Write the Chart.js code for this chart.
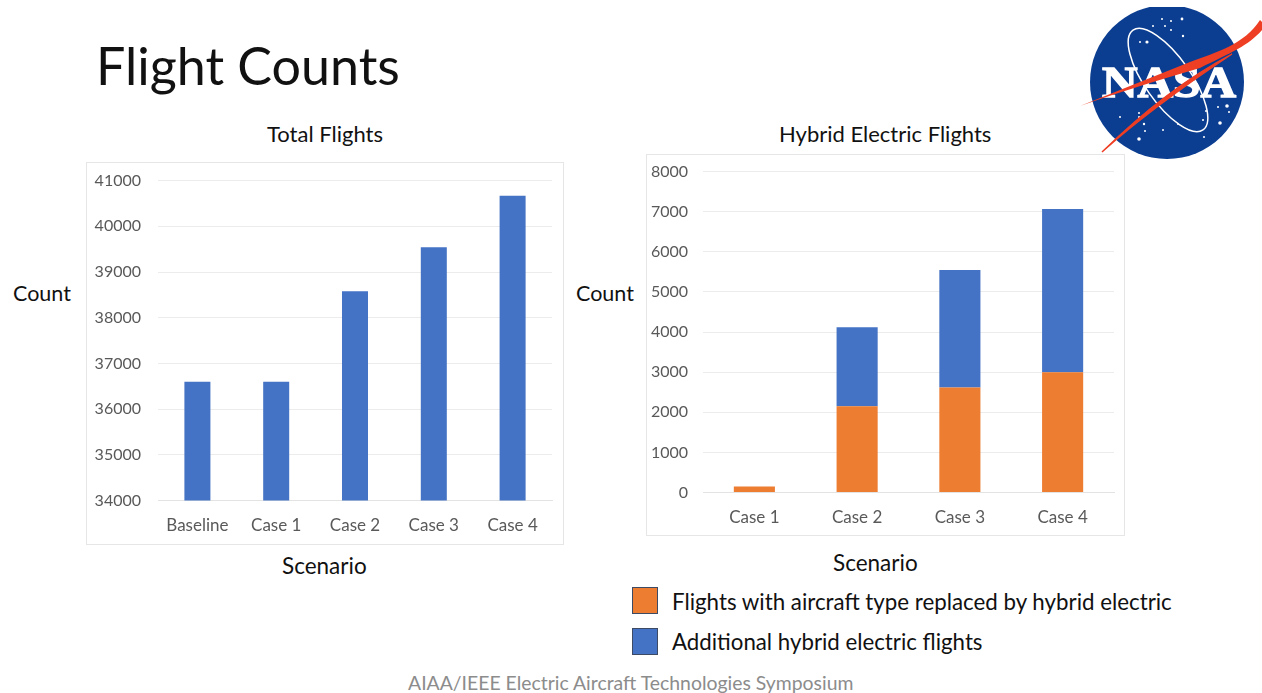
<!DOCTYPE html>
<html>
<head>
<meta charset="utf-8">
<script src="https://cdn.jsdelivr.net/npm/chart.js@4"></script>
<style>
html,body{margin:0;padding:0;background:#fff;width:1262px;height:693px;overflow:hidden;font-family:Lato,sans-serif;color:#111}
.t{position:absolute;white-space:nowrap;line-height:1}
.frame{position:absolute;border:1px solid #e6e6e6;box-sizing:border-box;background:#fff}
.frame canvas{display:block;position:absolute;left:0}
.sw{position:absolute;width:26px;height:27px;box-sizing:border-box;border:1.5px solid #3d4a63}
svg{position:absolute}
</style>
</head>
<body>
<div class="t" style="left:96px;top:39px;font-size:52px;font-weight:400;color:#111">Flight Counts</div>
<div class="t" style="left:267px;top:123px;font-size:22px">Total Flights</div>
<div class="t" style="left:779px;top:123px;font-size:22px">Hybrid Electric Flights</div>
<div class="t" style="left:13px;top:283px;font-size:21.5px">Count</div>
<div class="t" style="left:576px;top:283px;font-size:21.5px">Count</div>
<div class="t" style="left:282px;top:555px;font-size:22.5px">Scenario</div>
<div class="t" style="left:833px;top:552px;font-size:22.5px">Scenario</div>

<div class="frame" style="left:86px;top:162px;width:478px;height:383px"><canvas id="left" width="476" height="390" style="top:-9px;width:476px;height:390px"></canvas></div>
<div class="frame" style="left:646px;top:154px;width:479px;height:382px"><canvas id="right" width="477" height="388" style="top:-8px;width:477px;height:388px"></canvas></div>

<div class="sw" style="left:632px;top:587px;background:#ed7d31"></div>
<div class="sw" style="left:632px;top:628px;background:#4472c4"></div>
<div class="t" id="lg0" style="left:672px;top:591px;font-size:22.3px"></div>
<div class="t" id="lg1" style="left:672px;top:631px;font-size:22.25px"></div>
<div class="t" style="left:408px;top:673px;font-size:19.4px;color:#8c8c8c">AIAA/IEEE Electric Aircraft Technologies Symposium</div>

<svg style="left:1062px;top:0" width="200" height="170" viewBox="1062 0 200 170">
<defs><clipPath id="c"><rect x="1062" y="7" width="200" height="163"/></clipPath></defs>
<g clip-path="url(#c)">
<circle cx="1167" cy="82" r="77" fill="#0b3d91"/>
<g fill="#fff">
<circle cx="1182" cy="19" r="1.4"/><circle cx="1162" cy="19" r="1"/><circle cx="1171" cy="21" r="1"/>
<circle cx="1183" cy="36" r="1.2"/><circle cx="1147" cy="42" r="1.6"/><circle cx="1140" cy="42" r="1"/>
<circle cx="1153" cy="26" r="1"/><circle cx="1165" cy="26" r="1"/><circle cx="1171" cy="30" r="1"/>
<circle cx="1139" cy="117" r="1"/><circle cx="1120" cy="117" r="1"/><circle cx="1144" cy="124" r="1.2"/>
<circle cx="1139" cy="139" r="1.8"/><circle cx="1145" cy="131" r="1"/><circle cx="1163" cy="130" r="1"/>
<circle cx="1178" cy="124" r="1"/><circle cx="1204" cy="137" r="1"/><circle cx="1206" cy="111" r="1"/>
<circle cx="1227" cy="106" r="1.8"/><circle cx="1218" cy="107" r="1"/><circle cx="1229" cy="112" r="1"/>
<circle cx="1220" cy="123" r="1.8"/><circle cx="1203" cy="120" r="1"/><circle cx="1139" cy="113" r="1"/>
</g>
<ellipse cx="1168" cy="80" rx="23" ry="61" transform="rotate(-35 1168 80)" fill="none" stroke="#fff" stroke-width="1.5"/>
<text x="1102" y="97" font-family="'Liberation Serif',serif" font-weight="700" font-size="45" textLength="134" lengthAdjust="spacingAndGlyphs" fill="#fff" stroke="#fff" stroke-width="1.4">NASA</text>
<path d="M1080 106 L1190 62 C1215 53 1245 44 1260 20 L1262 22 L1262 30 C1248 46 1232 52 1200 68 C1165 78 1120 92 1080 106 Z" fill="#ee3e23"/>
<path d="M1102 152 C1140 118 1190 82 1232 54 C1190 76 1150 105 1102 152 Z" fill="#ee3e23" stroke="#ee3e23" stroke-width="1.4"/>
</g>
</svg>

<script>
const totalCategories = ["Baseline","Case 1","Case 2","Case 3","Case 4"];
const totalValues = [36600,36600,38580,39540,40670];
const hybridCategories = ["Case 1","Case 2","Case 3","Case 4"];
const replacedLabel = "Flights with aircraft type replaced by hybrid electric";
const additionalLabel = "Additional hybrid electric flights";
const replacedValues = [150,2150,2620,3000];
const additionalValues = [0,1970,2930,4070];

document.getElementById('lg0').textContent = replacedLabel;
document.getElementById('lg1').textContent = additionalLabel;

Chart.defaults.font.family = "Lato, sans-serif";
Chart.defaults.animation = false;
Chart.defaults.responsive = false;

function axes(min, max, step, yWidth, xHeight, stacked, yPad){
  return {
    x:{stacked:stacked,
       grid:{display:false},
       border:{display:true,color:'#e3e3e3',width:1},
       ticks:{color:'#595959',font:{size:17},padding:7,maxRotation:0,autoSkip:false},
       afterFit(s){s.height=xHeight;}},
    y:{stacked:stacked,min:min,max:max,
       grid:{color:'#ececec',lineWidth:1,tickLength:0,drawTicks:false},
       border:{display:false},
       ticks:{color:'#595959',font:{size:16},stepSize:step,padding:yPad,callback:v=>String(v)},
       afterFit(s){s.width=yWidth;}}
  };
}
new Chart(document.getElementById('left'),{
  type:'bar',
  data:{labels:totalCategories,datasets:[{label:'Total Flights',data:totalValues,backgroundColor:'#4472c4',barPercentage:0.33,categoryPercentage:1}]},
  options:{
    layout:{padding:{top:7,right:11,left:0,bottom:0}},
    plugins:{legend:{display:false},tooltip:{enabled:false}},
    scales:axes(34000,41000,1000,71,43.5,false,17)
  }
});
new Chart(document.getElementById('right'),{
  type:'bar',
  data:{labels:hybridCategories,datasets:[
    {label:replacedLabel,data:replacedValues,backgroundColor:'#ed7d31',barPercentage:0.4,categoryPercentage:1},
    {label:additionalLabel,data:additionalValues,backgroundColor:'#4472c4',barPercentage:0.4,categoryPercentage:1}
  ]},
  options:{
    layout:{padding:{top:8,right:10,left:0,bottom:0}},
    plugins:{legend:{display:false},tooltip:{enabled:false}},
    scales:axes(0,8000,1000,56,42.5,true,15)
  }
});
</script>
</body>
</html>
